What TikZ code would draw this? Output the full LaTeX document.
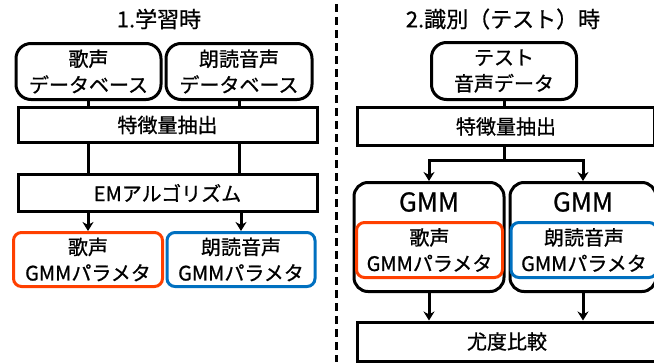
\documentclass[tikz,border=0pt]{standalone}
\usepackage{fontspec}
\setmainfont{Noto Sans CJK JP}[FakeBold=0.8]
\usetikzlibrary{arrows.meta}
\definecolor{myred}{RGB}{255,64,0}
\definecolor{myblue}{RGB}{0,112,192}
\tikzset{
  txt/.style={font=\fontsize{20}{26}\selectfont, align=center, inner sep=0pt},
  dbbox/.style={txt, draw, line width=3pt, rounded corners=15pt},
  procbox/.style={txt, draw, line width=3pt},
  parbox/.style={txt, draw, line width=3pt, rounded corners=8pt},
  gmmbox/.style={draw, line width=3pt, rounded corners=14pt, inner sep=0pt},
  conn/.style={line width=3pt},
  arr/.style={line width=3pt, -{Stealth[length=9pt,width=11pt]}},
  ttl/.style={font=\fontsize{22}{26}\selectfont, inner sep=0pt},
}
\begin{document}
\begin{tikzpicture}[x=1pt,y=-1pt]
\useasboundingbox (0,0) rectangle (654,362);
\clip (0,0) rectangle (654,362);
% titles
\node[ttl] (t1) at (159,19) {1.学習時};
\node[ttl] (t2) at (503,19) {2.識別（テスト）時};
% divider
\coordinate (d1) at (336.5,4);
\coordinate (d2) at (336.5,362);
\draw[line width=3pt, dash pattern=on 8pt off 5pt] (d1) -- (d2);
% left side
\node[dbbox, minimum width=145pt, minimum height=56pt] (dbL) at (88.5,71.5) {歌声\\データベース};
\node[dbbox, minimum width=146pt, minimum height=56pt] (dbR) at (239,71.5) {朗読音声\\データベース};
\node[procbox, minimum width=299pt, minimum height=35pt] (featL) at (167.5,125) {特徴量抽出};
\node[procbox, minimum width=299pt, minimum height=37pt] (em) at (167.5,193) {EMアルゴリズム};
\node[parbox, draw=myred, minimum width=149pt, minimum height=54pt] (pR) at (88,259.5) {歌声\\GMMパラメタ};
\node[parbox, draw=myblue, minimum width=148pt, minimum height=54pt] (pB) at (241,259.5) {朗読音声\\GMMパラメタ};
\draw[conn] (dbL.south) -- (dbL.south |- featL.north);
\draw[conn] (dbR.south) -- (dbR.south |- featL.north);
\draw[conn] (dbL.south |- featL.south) -- (dbL.south |- em.north);
\draw[conn] (dbR.south |- featL.south) -- (dbR.south |- em.north);
\draw[arr] (pR.north |- em.south) -- (pR.north);
\draw[arr] (pB.north |- em.south) -- (pB.north);
% right side
\node[dbbox, minimum width=145pt, minimum height=57pt] (test) at (504,71) {テスト\\音声データ};
\node[procbox, minimum width=297pt, minimum height=38pt] (featR) at (506,126.5) {特徴量抽出};
\node[gmmbox, minimum width=150pt, minimum height=109pt] (gL) at (429,237) {};
\node[gmmbox, minimum width=146pt, minimum height=109pt] (gR) at (583,237) {};
\node[ttl, font=\fontsize{26}{28}\selectfont] (gLt) at (429,202) {GMM};
\node[ttl, font=\fontsize{26}{28}\selectfont] (gRt) at (583,202) {GMM};
\node[parbox, draw=myred, minimum width=146pt, minimum height=55pt] (iR) at (429.5,250) {歌声\\GMMパラメタ};
\node[parbox, draw=myblue, minimum width=146pt, minimum height=55pt] (iB) at (584,250) {朗読音声\\GMMパラメタ};
\node[procbox, minimum width=300pt, minimum height=39pt] (lik) at (507,341.5) {尤度比較};
\coordinate (br) at (504,160);
\draw[conn] (test.south) -- (test.south |- featR.north);
\draw[conn] (test.south |- featR.south) -- (br);
\draw[arr] (br) -| (gL.north);
\draw[arr] (br) -| (gR.north);
\draw[arr] (gL.south) -- (gL.south |- lik.north);
\draw[arr] (gR.south) -- (gR.south |- lik.north);
\end{tikzpicture}
\end{document}
